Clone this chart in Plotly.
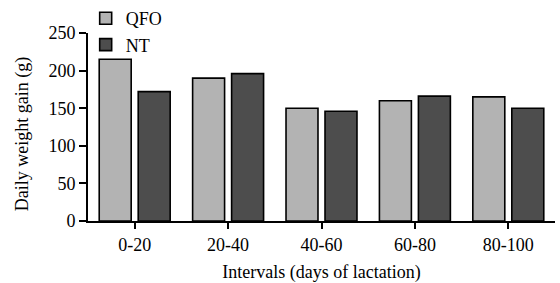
import plotly.graph_objects as go

categories = ["0-20", "20-40", "40-60", "60-80", "80-100"]
qfo = [215, 190, 150, 160, 165]
nt = [172, 196, 146, 166, 150]
y_ticks = [0, 50, 100, 150, 200, 250]

font_family = "Liberation Serif, Times New Roman, serif"

fig = go.Figure()
fig.add_trace(go.Bar(name="QFO", x=categories, y=qfo,
                     marker=dict(color="#b3b3b3", line=dict(color="black", width=1.6))))
fig.add_trace(go.Bar(name="NT", x=categories, y=nt,
                     marker=dict(color="#4d4d4d", line=dict(color="black", width=1.6))))

fig.update_layout(
    width=560, height=283,
    margin=dict(l=88, r=5, t=33, b=62, autoexpand=False),
    paper_bgcolor="white", plot_bgcolor="white",
    barmode="group", bargap=0.165, bargroupgap=0.18,
    font=dict(family=font_family, size=18, color="black"),
    legend=dict(xref="container", yref="container", x=0.153, y=1.0,
                xanchor="left", yanchor="top",
                bgcolor="rgba(0,0,0,0)", font=dict(size=18),
                itemwidth=30, tracegroupgap=0),
    showlegend=True,
    annotations=[dict(text="Daily weight gain (g)", textangle=-90,
                      xref="paper", yref="paper", x=-0.141, y=0.462,
                      xanchor="center", yanchor="middle", showarrow=False,
                      font=dict(size=18))],
)
fig.update_xaxes(
    showline=True, linecolor="black", linewidth=2,
    ticks="outside", ticklen=6, tickwidth=1.5, tickcolor="black",
    showgrid=False, range=[-0.5, 4.5], automargin=False,
    title=dict(text="Intervals (days of lactation)", font=dict(size=18)),
)
fig.update_yaxes(
    showline=True, linecolor="black", linewidth=2,
    ticks="outside", ticklen=7, tickwidth=1.5, tickcolor="black",
    showgrid=False, range=[0, 250], tickvals=y_ticks, automargin=False,
    zeroline=False,
)

fig.write_html("out.html", config={"displayModeBar": False},
               post_script="document.body.style.margin='0';")
